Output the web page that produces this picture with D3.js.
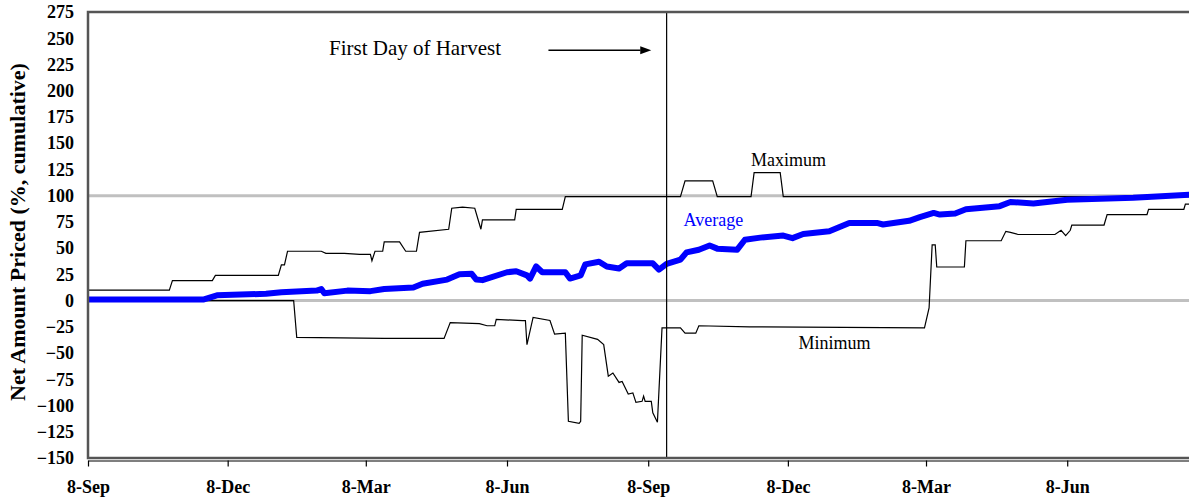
<!DOCTYPE html>
<html><head><meta charset="utf-8">
<script src="https://cdnjs.cloudflare.com/ajax/libs/d3/7.8.5/d3.min.js"></script>
<style>body{margin:0;background:#fff} svg{display:block}</style>
</head><body><svg id="chart" width="1189" height="502"></svg>
<script>
// ---------- data ----------
const yTicks = d3.range(-150, 276, 25);
const xTickDates = ["2001-09-08","2001-12-08","2002-03-08","2002-06-08","2002-09-08","2002-12-08","2003-03-08","2003-06-08"];
const xDomain = ["2001-09-08","2003-08-27"];
const harvestDate = "2002-09-20";
const referenceLevels = [0, 100];

const maximum = [
 ["2001-09-08",10],["2001-10-31",10],["2001-11-02",19],["2001-11-28",19],["2001-11-30",24],
 ["2002-01-10",24],["2002-01-12",34],["2002-01-14",34],["2002-01-16",47],["2002-02-07",47],
 ["2002-02-10",45],["2002-02-22",45],["2002-03-04",44],["2002-03-11",44],["2002-03-12",38],
 ["2002-03-14",47],["2002-03-19",47],["2002-03-20",56],["2002-03-30",56],["2002-04-03",47],
 ["2002-04-10",47],["2002-04-12",65],["2002-05-01",68],["2002-05-03",88],["2002-05-10",89],
 ["2002-05-18",88],["2002-05-22",68],["2002-05-23",77],["2002-06-13",77],["2002-06-14",87],
 ["2002-07-14",87],["2002-07-16",99],["2002-09-29",99],["2002-10-02",114],["2002-10-20",114],
 ["2002-10-23",99],["2002-11-14",99],["2002-11-16",122],["2002-12-03",122],["2002-12-05",99],
 ["2003-08-27",99]
];
const average = [
 ["2001-09-08",1],["2001-11-22",1],["2001-12-01",5],["2002-01-02",6.5],["2002-01-12",8],
 ["2002-02-04",9.5],["2002-02-07",11],["2002-02-09",7],["2002-02-24",9.5],["2002-03-11",9],
 ["2002-03-20",11],["2002-04-08",12.5],["2002-04-14",16],["2002-04-30",20],["2002-05-08",25],
 ["2002-05-16",25.5],["2002-05-19",20],["2002-05-23",19.5],["2002-06-08",27],["2002-06-14",28],
 ["2002-06-21",24],["2002-06-23",21],["2002-06-27",32.5],["2002-07-01",27],["2002-07-16",27],
 ["2002-07-19",21],["2002-07-26",24],["2002-07-29",34.5],["2002-08-07",37],["2002-08-12",32.5],
 ["2002-08-20",30.5],["2002-08-25",35.5],["2002-09-11",35.5],["2002-09-15",29.5],["2002-09-20",35],
 ["2002-09-29",39],["2002-10-03",46],["2002-10-11",48.5],["2002-10-18",52.5],["2002-10-23",49.5],
 ["2002-11-05",48.5],["2002-11-10",58],["2002-11-20",60],["2002-12-05",62],["2002-12-11",59.5],
 ["2002-12-18",63.5],["2003-01-04",66],["2003-01-17",74],["2003-02-04",74],["2003-02-08",72.5],
 ["2003-02-25",76],["2003-03-04",79.5],["2003-03-13",83.5],["2003-03-17",82],["2003-03-27",83],
 ["2003-04-03",87],["2003-04-25",90],["2003-05-02",94],["2003-05-17",92.5],["2003-06-08",96],
 ["2003-07-21",98],["2003-08-27",101]
];
const minimum = [
 ["2001-09-08",0],["2002-01-20",0],["2002-01-22",-35],["2002-03-20",-36],["2002-04-28",-36],
 ["2002-05-02",-21],["2002-05-21",-22],["2002-05-26",-24],["2002-05-31",-24],["2002-06-01",-18],
 ["2002-06-18",-19],["2002-06-20",-19],["2002-06-21",-42],["2002-06-25",-16],["2002-07-06",-19],
 ["2002-07-09",-32],["2002-07-16",-31],["2002-07-18",-115],["2002-07-25",-117],["2002-07-26",-115],
 ["2002-07-27",-33],["2002-08-06",-37],["2002-08-10",-42],["2002-08-13",-72],["2002-08-16",-69],
 ["2002-08-20",-78],["2002-08-22",-77],["2002-08-26",-89],["2002-08-29",-88],["2002-08-31",-97],
 ["2002-09-04",-96],["2002-09-05",-91],["2002-09-06",-96],["2002-09-10",-96],["2002-09-11",-107],
 ["2002-09-14",-116],["2002-09-17",-26],["2002-09-29",-26],["2002-10-02",-31],["2002-10-09",-31],
 ["2002-10-11",-24],["2002-11-13",-25],["2003-03-07",-26],["2003-03-10",-7],["2003-03-12",53],
 ["2003-03-14",53],["2003-03-15",32],["2003-04-02",32],["2003-04-03",57],["2003-04-26",57],
 ["2003-04-29",66],["2003-05-02",65],["2003-05-07",63],["2003-05-31",63],["2003-06-04",67],
 ["2003-06-07",62],["2003-06-10",67],["2003-06-11",72],["2003-07-02",72],["2003-07-04",82],
 ["2003-07-30",82],["2003-07-31",87],["2003-08-23",87],["2003-08-24",92],["2003-08-27",92]
];

// ---------- drawing ----------
const parse = d3.timeParse("%Y-%m-%d");
const svg = d3.select("#chart");
const L = 88, R = 1190, T = 12, B = 458;
const x = d3.scaleTime().domain(xDomain.map(parse)).range([L, R]);
const y = d3.scaleLinear().domain([-150, 275]).range([B, T]);
const serif = "'Liberation Serif','Times New Roman',Times,serif";

// reference lines
svg.selectAll("line.ref").data(referenceLevels).join("line")
  .attr("x1", L).attr("x2", R).attr("y1", d => y(d)).attr("y2", d => y(d))
  .attr("stroke", "#c0c0c0").attr("stroke-width", 3);

const line = d3.line().x(d => x(parse(d[0]))).y(d => y(d[1]));

svg.append("path").datum(minimum).attr("d", line)
  .attr("fill", "none").attr("stroke", "#000").attr("stroke-width", 1.2);
svg.append("path").datum(maximum).attr("d", line)
  .attr("fill", "none").attr("stroke", "#000").attr("stroke-width", 1.2);
svg.append("path").datum(average).attr("d", line)
  .attr("fill", "none").attr("stroke", "#0000ff").attr("stroke-width", 6)
  .attr("stroke-linejoin", "round");

// harvest vertical line
svg.append("line").attr("x1", x(parse(harvestDate))).attr("x2", x(parse(harvestDate)))
  .attr("y1", T).attr("y2", B).attr("stroke", "#000").attr("stroke-width", 1.2);

// frame
svg.append("rect").attr("x", L).attr("y", T).attr("width", R - L + 5).attr("height", B - T)
  .attr("fill", "none").attr("stroke", "#555").attr("stroke-width", 2.5);

// x axis
const xAxis = d3.axisBottom(x).tickValues(xTickDates.map(parse))
  .tickFormat(d3.timeFormat("%-d-%b")).tickSize(6).tickSizeOuter(0);
const gx = svg.append("g").attr("transform", `translate(0,${B + 2.5})`).call(xAxis);
gx.select(".domain").attr("stroke", "#000").attr("stroke-width", 1.2);
gx.selectAll(".tick line").attr("stroke", "#000").attr("stroke-width", 1.2);
gx.selectAll(".tick text").attr("font-family", serif).attr("font-weight", "bold")
  .attr("font-size", 18).attr("fill", "#000").attr("dy", "1.3em");

// y axis labels
const yAxis = d3.axisLeft(y).tickValues(yTicks).tickSize(0).tickPadding(14);
const gy = svg.append("g").attr("transform", `translate(${L},0)`).call(yAxis);
gy.select(".domain").remove();
gy.selectAll(".tick text").attr("font-family", serif).attr("font-weight", "bold")
  .attr("font-size", 18).attr("fill", "#000");

// y title
svg.append("text").attr("transform", `translate(25,232) rotate(-90)`)
  .attr("text-anchor", "middle").attr("font-family", serif).attr("font-weight", "bold")
  .attr("font-size", 22).text("Net Amount Priced (%, cumulative)");

// annotations
svg.append("text").attr("x", x(parse("2002-02-12"))).attr("y", y(234))
  .attr("font-family", serif).attr("font-size", 21).text("First Day of Harvest");
const ay = y(238.5);
svg.append("line").attr("x1", x(parse("2002-07-05"))).attr("x2", x(parse("2002-09-03")))
  .attr("y1", ay).attr("y2", ay).attr("stroke", "#000").attr("stroke-width", 1.6);
const ax = x(parse("2002-09-10"));
svg.append("path").attr("d", `M${ax},${ay} L${ax - 11},${ay - 4} L${ax - 11},${ay + 4} Z`).attr("fill", "#000");

svg.append("text").attr("x", x(parse("2002-11-14"))).attr("y", y(128))
  .attr("font-family", serif).attr("font-size", 18).text("Maximum");
svg.append("text").attr("x", x(parse("2002-10-01"))).attr("y", y(71))
  .attr("font-family", serif).attr("font-size", 18).attr("fill", "#0000ff").text("Average");
svg.append("text").attr("x", x(parse("2002-12-15"))).attr("y", y(-46))
  .attr("font-family", serif).attr("font-size", 18).text("Minimum");
</script></body></html>
